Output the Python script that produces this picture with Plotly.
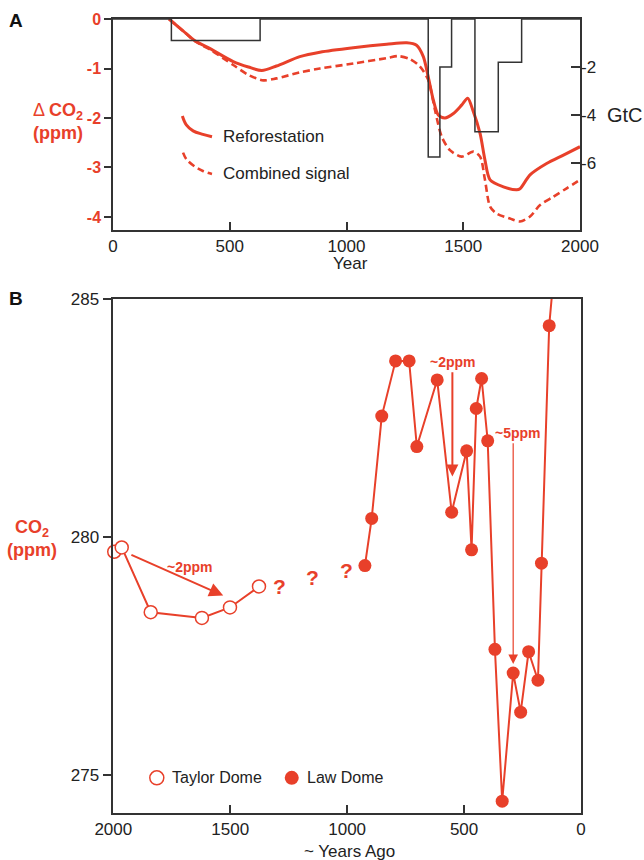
import plotly.graph_objects as go

RED = "#E8402A"
DARK = "#333333"
FONT = "Liberation Sans"

# ---------------- Panel A data ----------------
refor_years = [240, 300, 351, 420, 515, 580, 637, 700, 800, 886, 1029, 1172, 1258, 1300, 1329,
               1350, 1372, 1393, 1422, 1458, 1493, 1519, 1543, 1572, 1593, 1615, 1672, 1729,
               1743, 1786, 1857, 1929, 2000]
refor_ppm = [0.0, -0.24, -0.44, -0.61, -0.86, -0.97, -1.04, -0.95, -0.76, -0.67, -0.58, -0.51, -0.48,
             -0.53, -0.76, -1.17, -1.64, -1.94, -2.0, -1.91, -1.74, -1.60, -1.87, -2.31, -2.85,
             -3.25, -3.39, -3.45, -3.43, -3.15, -2.92, -2.75, -2.58]

comb_years = [240, 300, 351, 420, 515, 580, 644, 700, 800, 886, 1029, 1172, 1222, 1272, 1315,
              1350, 1379, 1408, 1443, 1493, 1543, 1572, 1593, 1615, 1643, 1700, 1743, 1786,
              1829, 1886, 1943, 2000]
comb_ppm = [0.0, -0.24, -0.45, -0.63, -0.93, -1.13, -1.24, -1.20, -1.08, -1.00, -0.90, -0.79, -0.75,
            -0.81, -0.96, -1.23, -1.84, -2.38, -2.65, -2.78, -2.68, -2.78, -3.25, -3.79, -3.93,
            -4.03, -4.09, -3.99, -3.76, -3.59, -3.42, -3.25]

step_years = [0, 250, 630, 1350, 1400, 1450, 1550, 1650, 1750, 2000]
step_gtc = [0, -0.9, 0, -5.75, -2.0, 0, -4.7, -1.8, 0, 0]

legA_solid_x = [297, 314, 343, 385, 424]
legA_solid_y = [-1.96, -2.14, -2.26, -2.33, -2.38]
legA_dash_x = [300, 314, 350, 385, 424]
legA_dash_y = [-2.70, -2.83, -2.98, -3.07, -3.13]

A_xticks = [0, 500, 1000, 1500, 2000]
A_yticks = [0, -1, -2, -3, -4]
A_y2ticks = [-2, -4, -6]

# ---------------- Panel B data ----------------
taylor_years = [1996, 1964, 1840, 1621, 1501, 1377]
taylor_ppm = [279.69, 279.78, 278.42, 278.30, 278.52, 278.96]

law_years = [924, 895, 852, 793, 735, 702, 615, 553, 489, 468, 448, 425, 399, 368, 337, 290,
             258, 224, 184, 169, 136, 60]
law_ppm = [279.40, 280.39, 282.54, 283.70, 283.70, 281.90, 283.30, 280.52, 281.81, 279.73,
           282.70, 283.33, 282.02, 277.64, 274.45, 277.14, 276.32, 277.59, 276.99, 279.45,
           284.44, 288.6]

q_years = [1291, 1149, 1002]
q_ppm = [278.96, 279.15, 279.29]

B_xticks = [2000, 1500, 1000, 500, 0]
B_yticks = [275, 280, 285]

fig = go.Figure()

# Panel A traces
fig.add_trace(go.Scatter(x=step_years, y=step_gtc, mode="lines", line=dict(color=DARK, width=1.5, shape="hv"),
                         xaxis="x", yaxis="y2", showlegend=False, hoverinfo="skip"))
fig.add_trace(go.Scatter(x=comb_years, y=comb_ppm, mode="lines", name="Combined signal",
                         line=dict(color=RED, width=2.6, dash="7px,4px", shape="spline", smoothing=0.8),
                         xaxis="x", yaxis="y", showlegend=False))
fig.add_trace(go.Scatter(x=refor_years, y=refor_ppm, mode="lines", name="Reforestation",
                         line=dict(color=RED, width=3, shape="spline", smoothing=0.8),
                         xaxis="x", yaxis="y", showlegend=False))
fig.add_trace(go.Scatter(x=legA_solid_x, y=legA_solid_y, mode="lines",
                         line=dict(color=RED, width=3, shape="spline"),
                         xaxis="x", yaxis="y", showlegend=False, hoverinfo="skip"))
fig.add_trace(go.Scatter(x=legA_dash_x, y=legA_dash_y, mode="lines",
                         line=dict(color=RED, width=2.6, dash="7px,4px", shape="spline"),
                         xaxis="x", yaxis="y", showlegend=False, hoverinfo="skip"))

# Panel B traces
fig.add_trace(go.Scatter(x=law_years, y=law_ppm, mode="lines+markers", name="Law Dome",
                         line=dict(color=RED, width=2),
                         marker=dict(color=RED, size=13, line=dict(width=0)),
                         xaxis="x2", yaxis="y3", showlegend=False, cliponaxis=True))
fig.add_trace(go.Scatter(x=taylor_years, y=taylor_ppm, mode="lines+markers", name="Taylor Dome",
                         line=dict(color=RED, width=2),
                         marker=dict(color="white", size=13, line=dict(color=RED, width=1.5)),
                         xaxis="x2", yaxis="y3", showlegend=False, cliponaxis=False))
# legend markers for panel B
fig.add_trace(go.Scatter(x=[1814], y=[274.94], mode="markers",
                         marker=dict(color="white", size=14, line=dict(color=RED, width=1.5)),
                         xaxis="x2", yaxis="y3", showlegend=False, hoverinfo="skip"))
fig.add_trace(go.Scatter(x=[1237], y=[274.94], mode="markers",
                         marker=dict(color=RED, size=14, line=dict(width=0)),
                         xaxis="x2", yaxis="y3", showlegend=False, hoverinfo="skip"))

W, H = 644, 860
def px(x):
    return x / W
def py(y):
    return 1 - y / H

tickfont = dict(family=FONT, size=17, color="#222222")
axis_common = dict(showgrid=False, zeroline=False, showline=True, linecolor=DARK, linewidth=1.5,
                   tickcolor=DARK, tickwidth=1.5)

fig.update_layout(
    width=W, height=H, margin=dict(l=0, r=0, t=0, b=0),
    paper_bgcolor="white", plot_bgcolor="white", template="none",
    font=dict(family=FONT, color="#222222"),
    xaxis=dict(domain=[px(113), px(580)], anchor="y", range=[0, 2000], tickvals=A_xticks,
               ticks="inside", ticklen=8, mirror=True, tickfont=tickfont, **axis_common),
    yaxis=dict(domain=[py(230), py(19)], anchor="x", range=[-4.263, 0], tickvals=A_yticks,
               ticktext=[str(v) for v in A_yticks], ticks="outside", ticklen=7, mirror=True,
               tickfont=dict(family=FONT, size=16, color=RED, weight="bold"), **axis_common),
    yaxis2=dict(overlaying="y", anchor="x", side="right", range=[-8.79, 0], tickvals=A_y2ticks,
                ticktext=[str(v) for v in A_y2ticks], ticks="inside", ticklen=9, showgrid=False,
                zeroline=False, showline=False, tickcolor=DARK, tickwidth=1.5, tickfont=tickfont),
    xaxis2=dict(domain=[px(113.3), px(581)], anchor="y3", range=[2000, 0], tickvals=B_xticks,
                ticks="inside", ticklen=9, mirror=True, tickfont=tickfont, **axis_common),
    yaxis3=dict(domain=[py(813.3), py(299)], anchor="x2", range=[274.195, 285], tickvals=B_yticks,
                ticks="outside", ticklen=9, mirror=True, tickfont=tickfont, **axis_common),
)

ann = []
def paper_text(text, x, y, size, color="#222222", xanchor="center", bold=False):
    ann.append(dict(text=text, x=px(x), y=py(y), xref="paper", yref="paper", showarrow=False,
                    xanchor=xanchor, yanchor="middle",
                    font=dict(family=FONT, size=size, color=color, weight="bold" if bold else "normal")))

paper_text("A", 16, 21, 19, color="#111111", bold=True)
paper_text("B", 16, 298, 19, color="#111111", bold=True)
paper_text("Δ <b>CO<sub>2</sub></b><br><b>(ppm)</b>", 58, 122, 18, color=RED)
paper_text("<b>CO<sub>2</sub></b><br><b>(ppm)</b>", 32, 538, 18, color=RED)
paper_text("GtC", 605, 115, 20, xanchor="left")
paper_text("Year", 351, 263, 17)
paper_text("~ Years Ago", 349, 851, 17)

# Panel A legend texts
for txt, yv in [("Reforestation", -2.38), ("Combined signal", -3.13)]:
    ann.append(dict(text=txt, x=463, y=yv, xref="x", yref="y", showarrow=False, xanchor="left",
                    yanchor="middle", font=dict(family=FONT, size=17, color="#222222")))

# Panel B legend texts
for txt, xv in [("Taylor Dome", 1758), ("Law Dome", 1180)]:
    ann.append(dict(text=txt, x=xv, y=274.94, xref="x2", yref="y3", showarrow=False, xanchor="left",
                    yanchor="middle", font=dict(family=FONT, size=16, color="#222222")))

# question marks
for xv, yv in zip(q_years, q_ppm):
    ann.append(dict(text="?", x=xv, y=yv, xref="x2", yref="y3", showarrow=False,
                    font=dict(family=FONT, size=21, color=RED, weight="bold")))

# arrows
ann.append(dict(text="", x=1530, y=278.77, ax=1929, ay=279.64, xref="x2", yref="y3",
                axref="x2", ayref="y3", showarrow=True, arrowhead=2, arrowsize=1.4,
                arrowwidth=2, arrowcolor=RED, standoff=0, startstandoff=0))
ann.append(dict(text="", x=550, y=281.27, ax=550, ay=283.49, xref="x2", yref="y3",
                axref="x2", ayref="y3", showarrow=True, arrowhead=2, arrowsize=1.2,
                arrowwidth=2, arrowcolor=RED, standoff=0))
ann.append(dict(text="", x=290, y=277.33, ax=290, ay=282.0, xref="x2", yref="y3",
                axref="x2", ayref="y3", showarrow=True, arrowhead=2, arrowsize=1.6,
                arrowwidth=1.2, arrowcolor=RED, standoff=0))
for txt, xv, yv in [("~2ppm", 1672, 279.38), ("~2ppm", 547, 283.68), ("~5ppm", 270, 282.19)]:
    ann.append(dict(text=txt, x=xv, y=yv, xref="x2", yref="y3", showarrow=False,
                    font=dict(family=FONT, size=14, color=RED, weight="bold")))

fig.update_layout(annotations=ann)
fig.write_html("out.html")
